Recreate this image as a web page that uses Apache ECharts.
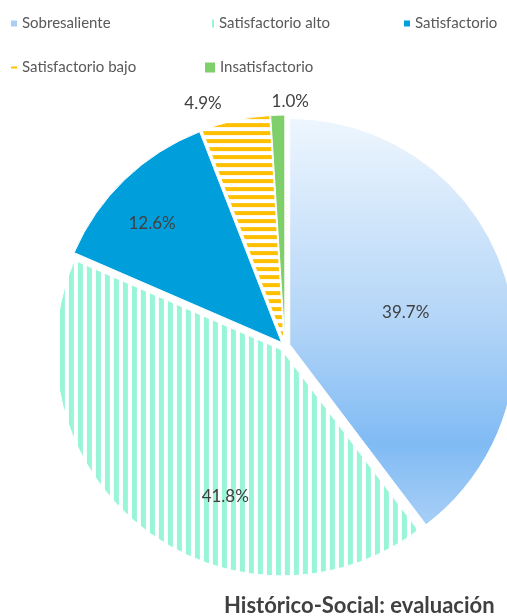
<!DOCTYPE html>
<html>
<head>
<meta charset="utf-8">
<script src="https://cdn.jsdelivr.net/npm/echarts@6/dist/echarts.min.js"></script>
<style>html,body{margin:0;padding:0;background:#fff}#c{width:507px;height:616px}</style>
</head>
<body>
<div id="c"></div>
<script>
// ---- data ----
const categories = ['Sobresaliente', 'Satisfactorio alto', 'Satisfactorio', 'Satisfactorio bajo', 'Insatisfactorio'];
const values = [39.7, 41.8, 12.6, 4.9, 1.0];
const titleText = 'Histórico-Social: evaluación';

// ---- styles ----
const FONT = 'Lato';
const sliceStyles = [
  { color: { type: 'linear', x: 0, y: 0, x2: 0, y2: 1, colorStops: [
      { offset: 0, color: '#eef6fe' }, { offset: 0.5, color: '#b3d5f7' },
      { offset: 0.8, color: '#80bbf4' }, { offset: 1, color: '#a8cff6' }] } },
  { color: '#ffffff', decal: { symbol: 'rect', symbolSize: 1, symbolKeepAspect: false,
      color: '#98f5d8', dashArrayX: [5, 3.5], dashArrayY: [10, 0], rotation: 0 } },
  { color: '#009fdb' },
  { color: '#ffffff', decal: { symbol: 'rect', symbolSize: 1, symbolKeepAspect: false,
      color: '#ffc000', dashArrayX: [10, 0], dashArrayY: [4, 3.4], rotation: 0 } },
  { color: '#7fcf6a' }
];
const legendIcons = [
  { left: 11, top: 16, w: 6, h: 6, color: '#a9cdf3' },
  { left: 212, top: 16, w: 2, h: 8, color: '#98f5d8' },
  { left: 404, top: 16, w: 6, h: 6, color: '#009fdb' },
  { left: 11, top: 60, w: 6, h: 2, color: '#ffc000' },
  { left: 205, top: 60, w: 10, h: 10, color: '#7fcf6a' }
];
const labelNudge = [[6, 5], [15, 55], [-49, -35], [-56, -124], [9, -124]];

const chart = echarts.init(document.getElementById('c'), null, { renderer: 'canvas' });

const legends = categories.map((name, i) => ({
  left: legendIcons[i].left, top: legendIcons[i].top, padding: 0,
  itemWidth: legendIcons[i].w, itemHeight: legendIcons[i].h, icon: 'rect',
  selectedMode: false,
  textStyle: { fontFamily: FONT, fontSize: 15, color: '#595959' },
  data: [{ name: name, itemStyle: { color: legendIcons[i].color, decal: 'none', borderWidth: 0 } }]
}));

chart.setOption({
  animation: false,
  title: {
    text: titleText, left: 224, top: 595, padding: 0,
    textStyle: { fontFamily: FONT, fontSize: 22, fontWeight: 'bold', color: '#404040' }
  },
  legend: legends,
  series: [{
    type: 'pie',
    center: [285, 346],
    radius: 226,
    startAngle: 90,
    clockwise: true,
    selectedMode: 'multiple',
    selectedOffset: 5,
    emphasis: { disabled: true },
    itemStyle: { borderColor: '#ffffff', borderWidth: 1 },
    label: {
      show: true, position: 'inside', fontFamily: FONT, fontSize: 17, color: '#404040',
      formatter: p => p.value.toFixed(1) + '%'
    },
    labelLine: { show: false },
    labelLayout: p => ({ dx: labelNudge[p.dataIndex][0], dy: labelNudge[p.dataIndex][1] }),
    data: categories.map((name, i) => ({
      name: name, value: values[i], selected: true,
      itemStyle: sliceStyles[i]
    }))
  }]
});
</script>
</body>
</html>
